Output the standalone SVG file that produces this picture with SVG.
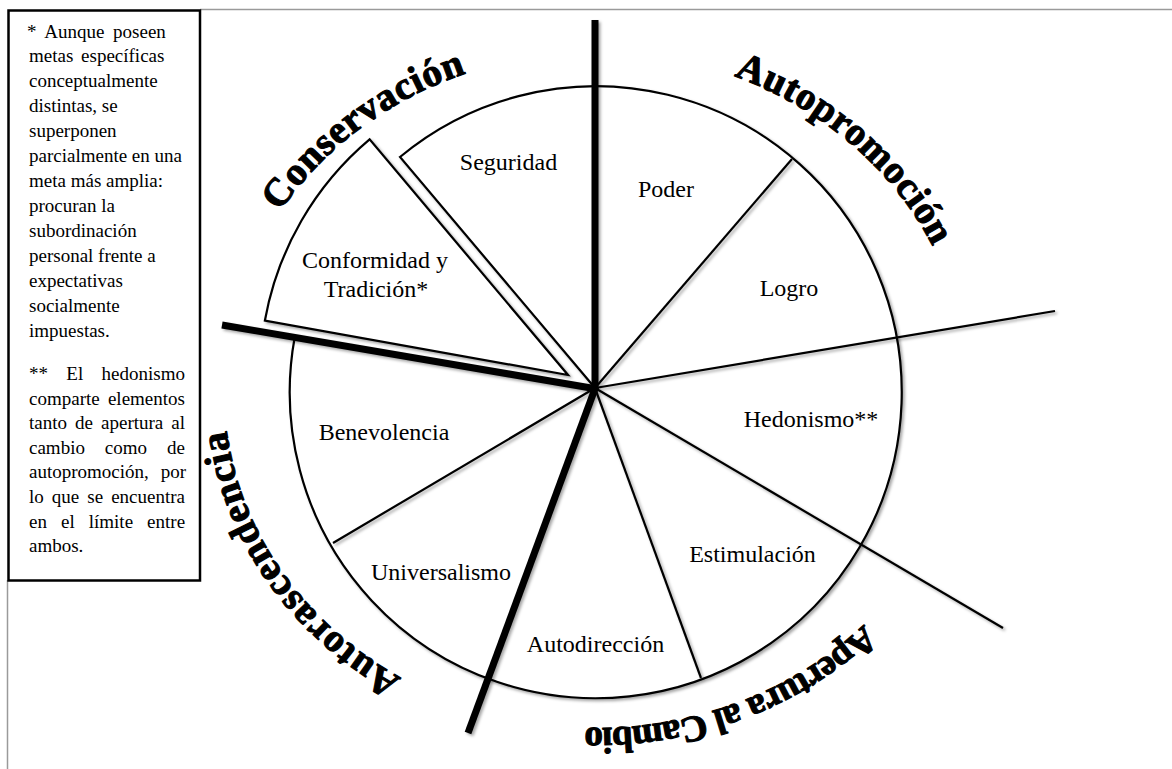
<svg xmlns="http://www.w3.org/2000/svg" width="1172" height="769" viewBox="0 0 1172 769">
  <style>
    .lbl { font-family: "Liberation Serif", "Times New Roman", serif; font-size: 24px; fill: #000; text-anchor: middle; }
    .note { font-family: "Liberation Serif", "Times New Roman", serif; font-size: 19px; fill: #000; }
    .arch { font-family: "Liberation Serif", "Times New Roman", serif; font-weight: bold; fill: #000; stroke: #000; stroke-width: 1.1; stroke-linejoin: round; text-anchor: middle; }
    .thin { stroke: #000; stroke-width: 2.2; fill: none; stroke-linecap: butt; }
    .thick { stroke: #000; stroke-width: 7; fill: none; stroke-linecap: butt; }
    .shape { stroke: #000; stroke-width: 2.2; fill: #fff; }
    .page { stroke: #9a9a9a; stroke-width: 1.5; fill: none; }
  </style>
  <defs>
    <filter id="sh" x="-10%" y="-10%" width="120%" height="120%">
      <feGaussianBlur in="SourceAlpha" stdDeviation="1.6" result="b"/>
      <feOffset in="b" dx="1.5" dy="1.5" result="o"/>
      <feFlood flood-color="#000" flood-opacity="0.35"/>
      <feComposite in2="o" operator="in" result="s"/>
      <feMerge><feMergeNode in="s"/><feMergeNode in="SourceGraphic"/></feMerge>
    </filter>
    <path id="p-cons" d="M 246.4 505.6 A 372 338 0 0 1 782 97.3"/>
    <path id="p-auto" d="M 435.9 84.9 A 372 338 0 0 1 934.5 530.2"/>
    <path id="p-aper" d="M 967.5 372.3 A 372 338 0 0 1 323.9 620.5"/>
    <path id="p-tras" d="M 667 721.8 A 372 338 0 0 1 306.9 177.3"/>
  </defs>

  <rect width="1172" height="769" fill="#fff"/>

  <!-- page edges -->
  <g id="page">
    <line class="page" x1="200" y1="9.5" x2="1172" y2="9.5"/>
    <line class="page" x1="7.5" y1="580" x2="7.5" y2="769"/>
  </g>

  <!-- note box -->
  <g id="note-box">
    <rect x="8.5" y="10.5" width="191.5" height="570" fill="#fff" stroke="#000" stroke-width="2.5"/>
    <text class="note">
      <tspan x="27" y="37.5" word-spacing="4">* Aunque poseen</tspan>
      <tspan x="29" y="62.4" word-spacing="3">metas específicas</tspan>
      <tspan x="29" y="87.4">conceptualmente</tspan>
      <tspan x="29" y="112.3">distintas, se</tspan>
      <tspan x="29" y="137.2">superponen</tspan>
      <tspan x="29" y="162.2">parcialmente en una</tspan>
      <tspan x="29" y="187.1">meta más amplia:</tspan>
      <tspan x="29" y="212">procuran la</tspan>
      <tspan x="29" y="236.9">subordinación</tspan>
      <tspan x="29" y="261.9">personal frente a</tspan>
      <tspan x="29" y="286.8">expectativas</tspan>
      <tspan x="29" y="311.7">socialmente</tspan>
      <tspan x="29" y="336.7">impuestas.</tspan>
    </text>
    <text class="note" x="29" y="380" word-spacing="13.6">** El hedonismo</text>
    <text class="note" x="29" y="404.6" word-spacing="3.5">comparte elementos</text>
    <text class="note" x="29" y="429.2" word-spacing="3.3">tanto de apertura al</text>
    <text class="note" x="29" y="453.8" word-spacing="15.2">cambio como de</text>
    <text class="note" x="29" y="478.4" word-spacing="7.1">autopromoción, por</text>
    <text class="note" x="29" y="503" word-spacing="3.3">lo que se encuentra</text>
    <text class="note" x="29" y="527.6" word-spacing="9.3">en el límite entre</text>
    <text class="note" x="29" y="552.2">ambos.</text>
  </g>

  <!-- wheel body -->
  <g id="wheel" filter="url(#sh)">
    <path class="shape" d="M 400 157 A 306 306 0 1 1 294.8 336.8 L 595 388 Z"/>
    <path id="wedge-conformidad" class="shape" d="M 568 375 L 264.9 320.5 A 308 308 0 0 1 369.6 139.4 Z"/>
  </g>

  <!-- connectors: dividing lines -->
  <g id="connectors" filter="url(#sh)">
    <line class="thin" x1="595" y1="388" x2="792" y2="159"/>
    <line class="thin" x1="595" y1="388" x2="1055" y2="311" stroke-width="2.6"/>
    <line class="thin" x1="595" y1="388" x2="1003" y2="628"/>
    <line class="thin" x1="595" y1="388" x2="701" y2="678"/>
    <line class="thin" x1="595" y1="388" x2="333" y2="543"/>
    <line class="thick" x1="595" y1="391" x2="595" y2="20"/>
    <line class="thick" x1="597" y1="389" x2="222" y2="325"/>
    <line class="thick" x1="596" y1="386" x2="468" y2="733"/>
  </g>

  <!-- sector labels -->
  <g id="seguridad"><text class="lbl" x="508.5" y="170">Seguridad</text></g>
  <g id="poder"><text class="lbl" x="666" y="197">Poder</text></g>
  <g id="logro"><text class="lbl" x="789" y="296">Logro</text></g>
  <g id="hedonismo"><text class="lbl" x="811" y="427">Hedonismo**</text></g>
  <g id="estimulacion"><text class="lbl" x="752.5" y="562">Estimulación</text></g>
  <g id="autodireccion"><text class="lbl" x="595.5" y="652">Autodirección</text></g>
  <g id="universalismo"><text class="lbl" x="441" y="580">Universalismo</text></g>
  <g id="benevolencia"><text class="lbl" x="384" y="440">Benevolencia</text></g>
  <g id="conformidad">
    <text class="lbl" x="375" y="268">Conformidad y</text>
    <text class="lbl" x="376" y="297">Tradición*</text>
  </g>

  <!-- group labels along arcs -->
  <g id="conservacion"><text class="arch" font-size="39" textLength="236" lengthAdjust="spacing"><textPath href="#p-cons" startOffset="49%">Conservación</textPath></text></g>
  <g id="autopromocion"><text class="arch" font-size="39" textLength="268" lengthAdjust="spacing"><textPath href="#p-auto" startOffset="50.6%">Autopromoción</textPath></text></g>
  <g id="apertura"><text class="arch" font-size="37" textLength="306" lengthAdjust="spacing"><textPath href="#p-aper" startOffset="49.6%">Apertura al Cambio</textPath></text></g>
  <g id="autotrascendencia"><text class="arch" font-size="39" textLength="314" lengthAdjust="spacing"><textPath href="#p-tras" startOffset="50%">Autorascendencia</textPath></text></g>
</svg>
